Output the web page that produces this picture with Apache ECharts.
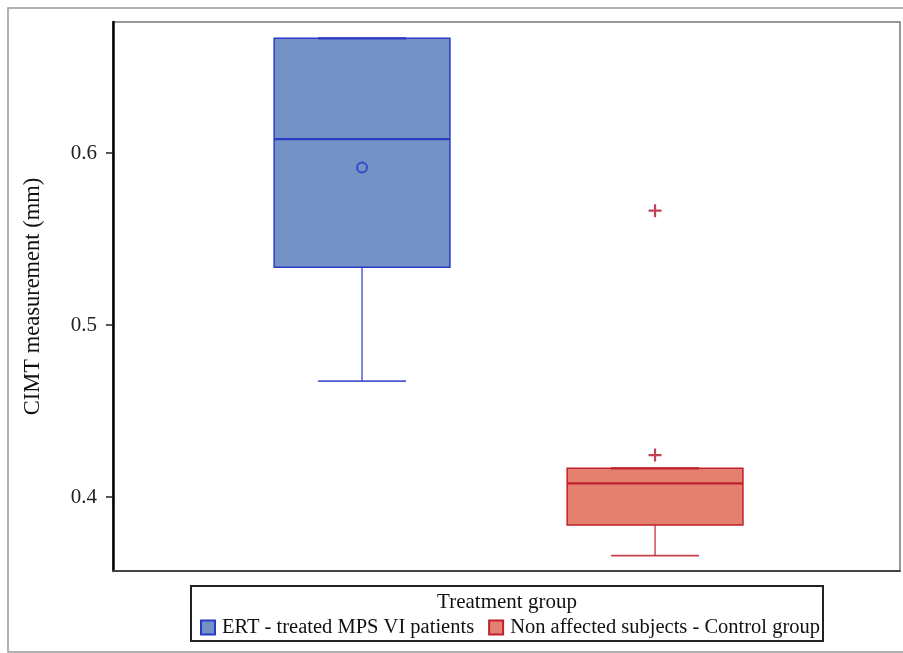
<!DOCTYPE html>
<html>
<head>
<meta charset="utf-8">
<script src="https://cdn.jsdelivr.net/npm/echarts@6/dist/echarts.min.js"></script>
<style>
html,body{margin:0;padding:0;background:#fff;}
#chart{width:903px;height:653px;}
</style>
</head>
<body>
<div id="chart"></div>
<script>
// ---- data ----
const categories = ['ERT - treated MPS VI patients', 'Non affected subjects - Control group'];
const xPositions = [1, 2];
const lowerWhisker = [0.4674, 0.3659];
const q1Values = [0.5336, 0.3837];
const medianValues = [0.6081, 0.4080];
const q3Values = [0.6667, 0.4167];
const upperWhisker = [0.6667, 0.4167];
const meanPoints = [[1, 0.5916]];
const outlierPoints = [[2, 0.5665], [2, 0.4244]];
const yTicks = [0.4, 0.5, 0.6];
const yTitle = 'CIMT measurement (mm)';
const legendTitle = 'Treatment group';

// ---- styles ----
const fills = ['#7592C7', '#E4806E'];
const strokes = ['#2B3BC8', '#C0202E'];
const FONT = 'Liberation Serif';

function makeRender(idx) {
  return function (params, api) {
    const x = api.value(0);
    const vMin = api.value(1), vQ1 = api.value(2), vMed = api.value(3), vQ3 = api.value(4), vMax = api.value(5);
    const unit = api.size([1, 0])[0];
    const half = unit * 0.3;
    const capHalf = unit * 0.15;
    const pMin = api.coord([x, vMin]);
    const pQ1 = api.coord([x, vQ1]);
    const pMed = api.coord([x, vMed]);
    const pQ3 = api.coord([x, vQ3]);
    const pMax = api.coord([x, vMax]);
    const cx = pMed[0];
    const stroke = strokes[idx];
    return {
      type: 'group',
      children: [
        { type: 'line', shape: { x1: cx, y1: pMin[1], x2: cx, y2: pQ1[1] }, style: { stroke: stroke, lineWidth: 1.5, opacity: 0.8 } },
        { type: 'line', shape: { x1: cx, y1: pQ3[1], x2: cx, y2: pMax[1] }, style: { stroke: stroke, lineWidth: 1.5, opacity: 0.8 } },
        { type: 'rect', shape: { x: cx - half, y: pQ3[1], width: half * 2, height: pQ1[1] - pQ3[1] },
          style: { fill: fills[idx], stroke: stroke, lineWidth: 1.5 } },
        { type: 'line', shape: { x1: cx - half, y1: pMed[1], x2: cx + half, y2: pMed[1] }, style: { stroke: stroke, lineWidth: 2.2 } },
        { type: 'line', shape: { x1: cx - capHalf, y1: pMin[1], x2: cx + capHalf, y2: pMin[1] }, style: { stroke: stroke, lineWidth: 1.8, opacity: 0.85 } },
        { type: 'line', shape: { x1: cx - capHalf, y1: pMax[1], x2: cx + capHalf, y2: pMax[1] }, style: { stroke: stroke, lineWidth: 2.2 } }
      ]
    };
  };
}

const boxSeries = categories.map(function (name, i) {
  return {
    type: 'custom',
    name: name,
    renderItem: makeRender(i),
    encode: { x: 0, y: [1, 2, 3, 4, 5] },
    itemStyle: { color: fills[i], borderColor: strokes[i] },
    data: [[xPositions[i], lowerWhisker[i], q1Values[i], medianValues[i], q3Values[i], upperWhisker[i]]],
    z: 2
  };
});

const chart = echarts.init(document.getElementById('chart'), null, { renderer: 'canvas' });
chart.setOption({
  animation: false,
  backgroundColor: '#fff',
  grid: { left: 113, right: 3, top: 22, bottom: 82, show: true, borderColor: '#777', borderWidth: 1.5 },
  xAxis: {
    type: 'value', min: 0.15, max: 2.836,
    axisLine: { show: true, onZero: false, lineStyle: { color: '#444', width: 2 } },
    axisTick: { show: false }, axisLabel: { show: false }, splitLine: { show: false }
  },
  yAxis: {
    type: 'value', min: 0.357, max: 0.6762,
    name: yTitle, nameLocation: 'middle', nameGap: 68,
    nameTextStyle: { fontFamily: FONT, fontSize: 22.5, color: '#111' },
    axisLine: { show: true, onZero: false, lineStyle: { color: '#000', width: 2.5 } },
    axisTick: { show: true, length: 7, customValues: yTicks, lineStyle: { color: '#222', width: 1.5 } },
    axisLabel: { customValues: yTicks, formatter: function (v) { return v.toFixed(1); }, margin: 16,
      fontFamily: FONT, fontSize: 21, color: '#222' },
    splitLine: { show: false }
  },
  legend: {
    left: 195, top: 612, itemWidth: 14, itemHeight: 14, itemGap: 14,
    textStyle: { fontFamily: FONT, fontSize: 20.5, color: '#111', padding: [0, 0, 0, 2] },
    data: categories.map(function (n, i) {
      return { name: n, icon: 'rect', itemStyle: { color: fills[i], borderColor: strokes[i], borderWidth: 2 } };
    })
  },
  graphic: [
    { type: 'rect', shape: { x: 8, y: 8, width: 905, height: 644 }, style: { fill: null, stroke: '#999', lineWidth: 1.5 }, silent: true },
    { type: 'rect', shape: { x: 191, y: 586, width: 632, height: 55 }, style: { fill: null, stroke: '#222', lineWidth: 2 }, silent: true },
    { type: 'text', x: 507, y: 602, style: { text: legendTitle, fontFamily: FONT, fontSize: 21, fill: '#111', align: 'center', verticalAlign: 'middle' }, silent: true }
  ],
  series: boxSeries.concat([
    {
      type: 'scatter', name: 'Mean', data: meanPoints, symbol: 'circle', symbolSize: 10,
      itemStyle: { color: 'rgba(0,0,0,0)', borderColor: strokes[0], borderWidth: 2 }, z: 5
    },
    {
      type: 'scatter', name: 'Outliers', data: outlierPoints,
      symbol: 'path://M0,5h12v2h-12z M5,0h2v12h-2z', symbolSize: 13,
      itemStyle: { color: '#B3122A' }, z: 5
    }
  ])
});
</script>
</body>
</html>
